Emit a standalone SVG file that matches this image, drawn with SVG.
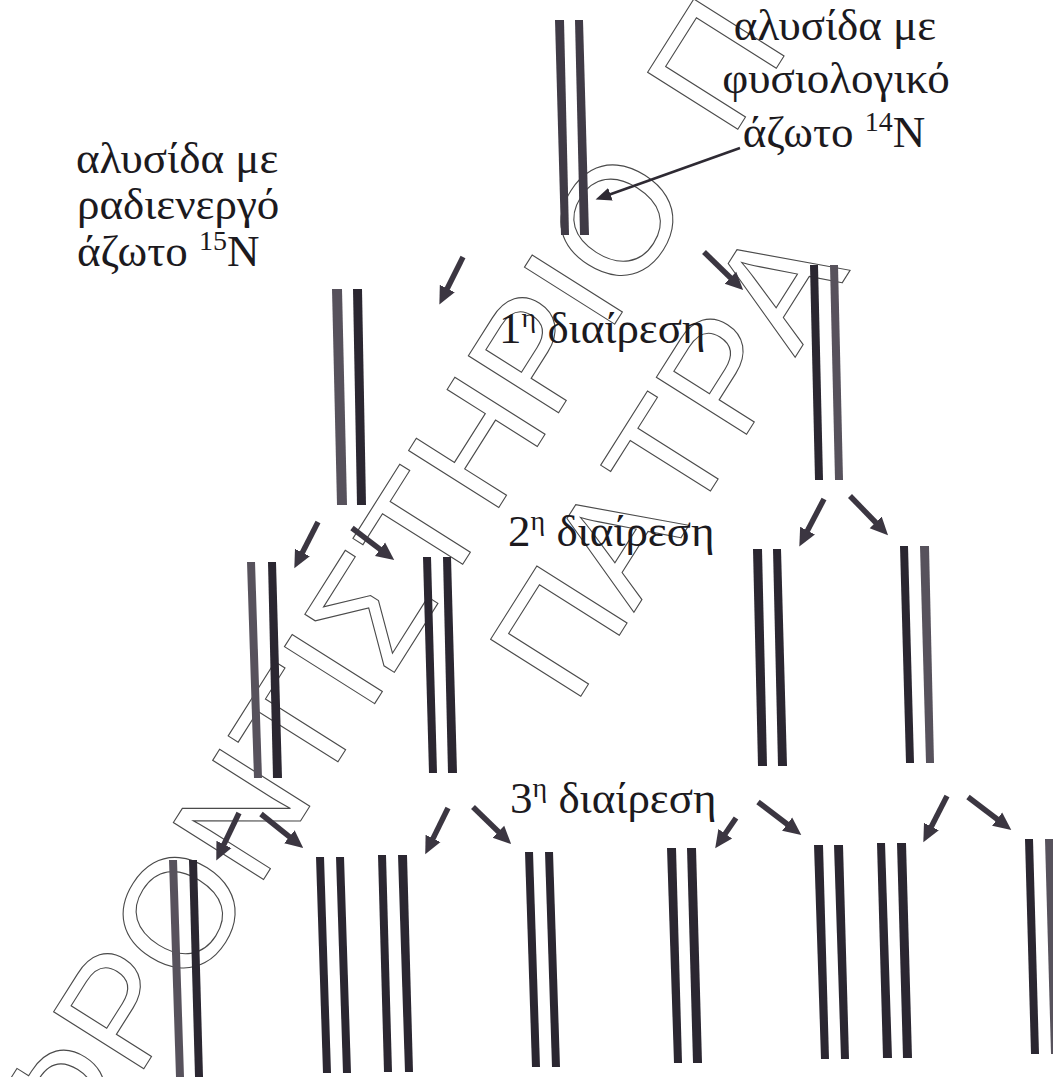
<svg xmlns="http://www.w3.org/2000/svg" width="1053" height="1077" viewBox="0 0 1053 1077">
<style>
.bg{fill:#ffffff}
.g15{fill:#57525c}
.n14{fill:#2b2731}
.par{fill:#403b46}
.wm{font-family:"Liberation Sans",Arial,sans-serif;font-size:155px;fill:none;stroke:#4a4a4a;stroke-width:1.1}
.lbl{font-family:"Liberation Serif","Times New Roman",serif;font-size:45px;fill:#1c1a1e}
.sup{font-size:28px}
.arr{stroke:#3b3641;stroke-width:5.5;fill:none}
.arrt{stroke:#2e2a33;stroke-width:2.6;fill:none}
</style>
<defs>
<marker id="ah" markerUnits="userSpaceOnUse" markerWidth="20" markerHeight="20" viewBox="0 -8 18 16" refX="2" refY="0" orient="auto">
<path d="M0,-7.5 L16,0 L0,7.5 z" fill="#3b3641"/>
</marker>
<marker id="aht" markerUnits="userSpaceOnUse" markerWidth="18" markerHeight="16" viewBox="0 -7 16 14" refX="2" refY="0" orient="auto">
<path d="M0,-6 L14,0 L0,6 z" fill="#2e2a33"/>
</marker>
</defs>
<rect class="bg" x="0" y="0" width="1053" height="1077"/>

<g id="watermark">
<text class="wm" transform="translate(71,1184) rotate(-57.7)" x="0 123.5 226.9 347.5 459.4 554.1 597.2 693 787.7 899.6 1003 1046.1 1166.7 1235" y="0">ΦΡΟΝΤΙΣΤΗΡΙΟ Π</text>
<text class="wm" transform="translate(574,707) rotate(-57.7)" x="0 111.9 215.3 310 413.4" y="0">ΠΑΤΡΑ</text>
</g>

<g id="parent">
<polygon class="par" points="555,20 564,20 569,235 561,235"/>
<polygon class="par" points="575,20 583,20 589,235 580,235"/>
</g>

<g id="gen1-left">
<polygon class="g15" points="332,289 342,289 347,505 337,505"/>
<polygon class="n14" points="353,289 362,289 366,505 357,505"/>
</g>
<g id="gen1-right">
<polygon class="n14" points="810,265 818,265 823,480 815,480"/>
<polygon class="g15" points="830,265 838,265 843,480 835,480"/>
</g>

<g id="gen2-1">
<polygon class="g15" points="247,562 255,562 262,778 254,778"/>
<polygon class="n14" points="268,562 276,562 282,778 273,778"/>
</g>
<g id="gen2-2">
<polygon class="n14" points="423,557 431,557 437,773 429,773"/>
<polygon class="n14" points="443,557 451,557 457,773 448,773"/>
</g>
<g id="gen2-3">
<polygon class="n14" points="753,549 762,549 767,766 758,766"/>
<polygon class="n14" points="773,549 781,549 787,766 778,766"/>
</g>
<g id="gen2-4">
<polygon class="n14" points="900,546 908,546 914,763 906,763"/>
<polygon class="g15" points="920,546 929,546 934,763 926,763"/>
</g>

<g id="gen3-1">
<polygon class="g15" points="169,860 177,860 184,1077 176,1077"/>
<polygon class="n14" points="189,860 197,860 203,1077 195,1077"/>
</g>
<g id="gen3-2">
<polygon class="n14" points="316,857 324,857 331,1073 323,1073"/>
<polygon class="n14" points="336,857 344,857 351,1073 343,1073"/>
</g>
<g id="gen3-3">
<polygon class="n14" points="378,855 386,855 392,1072 384,1072"/>
<polygon class="n14" points="398,855 407,855 413,1072 405,1072"/>
</g>
<g id="gen3-4">
<polygon class="n14" points="525,852 533,852 540,1067 532,1067"/>
<polygon class="n14" points="545,852 553,852 560,1067 552,1067"/>
</g>
<g id="gen3-5">
<polygon class="n14" points="667,848 676,848 682,1063 674,1063"/>
<polygon class="n14" points="687,848 696,848 702,1063 693,1063"/>
</g>
<g id="gen3-6">
<polygon class="n14" points="814,845 823,845 829,1059 821,1059"/>
<polygon class="n14" points="834,845 843,845 849,1059 841,1059"/>
</g>
<g id="gen3-7">
<polygon class="n14" points="877,843 885,843 892,1058 883,1058"/>
<polygon class="n14" points="897,843 906,843 912,1058 903,1058"/>
</g>
<g id="gen3-8">
<polygon class="n14" points="1025,839 1033,839 1039,1054 1031,1054"/>
<polygon class="g15" points="1045,839 1054,839 1060,1054 1051,1054"/>
</g>

<g id="connectors">
<line class="arrt" x1="740" y1="148" x2="608.3" y2="195" marker-end="url(#aht)"/>
<line class="arr" x1="463" y1="257" x2="446.3" y2="290.5" marker-end="url(#ah)"/>
<line class="arr" x1="704" y1="252" x2="732" y2="279.2" marker-end="url(#ah)"/>
<line class="arr" x1="318" y1="522" x2="301.4" y2="554.5" marker-end="url(#ah)"/>
<line class="arr" x1="352" y1="528" x2="381.8" y2="550.6" marker-end="url(#ah)"/>
<line class="arr" x1="824" y1="499" x2="806.5" y2="532.6" marker-end="url(#ah)"/>
<line class="arr" x1="850" y1="496" x2="877.2" y2="524" marker-end="url(#ah)"/>
<line class="arr" x1="239" y1="813" x2="223" y2="846.4" marker-end="url(#ah)"/>
<line class="arr" x1="261" y1="814" x2="291.1" y2="838.2" marker-end="url(#ah)"/>
<line class="arr" x1="448" y1="808" x2="432.1" y2="840.4" marker-end="url(#ah)"/>
<line class="arr" x1="473" y1="807" x2="500" y2="833.2" marker-end="url(#ah)"/>
<line class="arr" x1="736" y1="818" x2="724" y2="835.5" marker-end="url(#ah)"/>
<line class="arr" x1="758" y1="802" x2="788.9" y2="825.5" marker-end="url(#ah)"/>
<line class="arr" x1="947" y1="796" x2="930.4" y2="828.5" marker-end="url(#ah)"/>
<line class="arr" x1="968" y1="797" x2="998.9" y2="820.5" marker-end="url(#ah)"/>
</g>

<g id="label-14N">
<text class="lbl" text-anchor="middle" x="835" y="40">αλυσίδα με</text>
<text class="lbl" text-anchor="middle" x="836" y="93">φυσιολογικό</text>
<text class="lbl" text-anchor="middle" x="834" y="147">άζωτο <tspan class="sup" dy="-16">14</tspan><tspan dy="16">N</tspan></text>
</g>
<g id="label-15N">
<text class="lbl" x="76" y="173">αλυσίδα με</text>
<text class="lbl" x="77" y="219">ραδιενεργό</text>
<text class="lbl" x="77" y="266">άζωτο <tspan class="sup" dy="-16">15</tspan><tspan dy="16">N</tspan></text>
</g>
<g id="label-div1"><text class="lbl" x="499" y="343">1<tspan class="sup" dy="-16">η</tspan><tspan dy="16"> διαίρεση</tspan></text></g>
<g id="label-div2"><text class="lbl" x="508" y="546">2<tspan class="sup" dy="-16">η</tspan><tspan dy="16"> διαίρεση</tspan></text></g>
<g id="label-div3"><text class="lbl" x="510" y="813">3<tspan class="sup" dy="-16">η</tspan><tspan dy="16"> διαίρεση</tspan></text></g>
</svg>
